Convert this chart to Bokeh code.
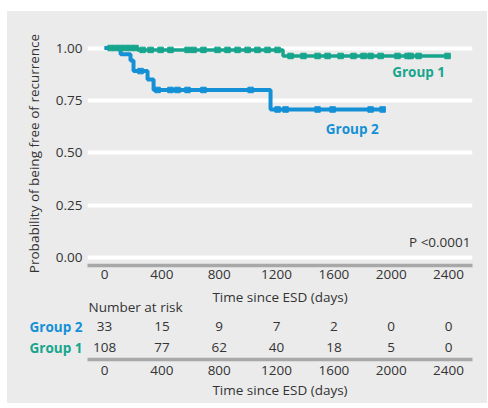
import numpy as np
from bokeh.plotting import figure
from bokeh.layouts import column, row
from bokeh.models import Label, FixedTicker, NumeralTickFormatter, Range1d, Spacer
from bokeh.core.properties import value
from bokeh.embed import file_html
from bokeh.resources import INLINE

# ---------------- data ----------------
ticks_days = [0, 400, 800, 1200, 1600, 2000, 2400]
y_ticks = [0.0, 0.25, 0.50, 0.75, 1.00]

# Kaplan-Meier step curves (time in days, survival)
g1_time = [0, 230, 1245, 2393]
g1_surv = [1.00, 0.991, 0.962, 0.962]
g2_time = [0, 112, 181, 202, 300, 342, 1158, 1940]
g2_surv = [1.00, 0.97, 0.94, 0.89, 0.85, 0.80, 0.707, 0.707]

# censoring times
g1_cens = [42, 77, 112, 147, 181, 216, 265, 321, 391, 460, 579, 621, 690, 788, 858,
           928, 998, 1067, 1137, 1207, 1298, 1388, 1486, 1556, 1647, 1737, 1807,
           1856, 1926, 2044, 2114, 2135, 2191, 2393]
g2_cens = [251, 370, 460, 509, 579, 690, 1019, 1207, 1263, 1486, 1591, 1856, 1940]

# number at risk
risk_g2 = [33, 15, 9, 7, 2, 0, 0]
risk_g1 = [108, 77, 62, 40, 18, 5, 0]

group_names = ["Group 1", "Group 2"]
p_text = "P <0.0001"
x_title = "Time since ESD (days)"
y_title = "Probability of being free of recurrence"
risk_title = "Number at risk"

# ---------------- style ----------------
BG = "#ebebeb"
TEAL = "#17a58d"
BLUE = "#1490d6"
AXIS_GREY = "#a8a8a8"
TXT = "#333333"
FONT = "Open Sans"
FS = "13.5px"

X0, X1 = -119, 2567          # visible day range of plot area
FIG_W = 480
BORDER_L, BORDER_R = 80, 15


def surv_at(times, surv, t):
    idx = np.searchsorted(np.array(times), t, side="right") - 1
    return [surv[i] for i in idx]


def base_fig(height, y_range, top, bottom):
    f = figure(width=FIG_W, height=height, x_range=x_range, y_range=y_range,
               output_backend="svg", toolbar_location=None,
               min_border_left=BORDER_L, min_border_right=BORDER_R,
               min_border_top=top, min_border_bottom=bottom,
               background_fill_color=BG, border_fill_color=BG,
               outline_line_color=None, styles={"background-color": BG})
    return f


def style_xaxis(ax, label, tick_standoff, label_standoff):
    ax.ticker = FixedTicker(ticks=ticks_days)
    ax.major_tick_line_color = None
    ax.minor_tick_line_color = None
    ax.major_tick_out = 0
    ax.major_label_text_font = FONT
    ax.major_label_text_font_size = FS
    ax.major_label_text_color = TXT
    ax.major_label_standoff = tick_standoff
    ax.axis_line_color = AXIS_GREY
    ax.axis_line_width = 3.5
    ax.axis_label = label
    ax.axis_label_text_font = FONT
    ax.axis_label_text_font_size = FS
    ax.axis_label_text_font_style = "normal"
    ax.axis_label_text_color = TXT
    ax.axis_label_standoff = label_standoff


def style_yaxis(ax):
    ax.axis_line_color = None
    ax.major_tick_line_color = None
    ax.minor_tick_line_color = None
    ax.major_tick_out = 0
    ax.major_label_text_font = FONT
    ax.major_label_text_font_size = FS
    ax.major_label_standoff = 5


x_range = Range1d(X0, X1)

# ---------------- main KM plot ----------------
p1 = base_fig(276, (-0.0367, 1.031), 30, 22)
p1.xgrid.visible = False
p1.ygrid.ticker = FixedTicker(ticks=y_ticks)
p1.ygrid.grid_line_color = "white"
p1.ygrid.grid_line_width = 4

style_xaxis(p1.xaxis[0], None, 4, 0)

yax = p1.yaxis[0]
style_yaxis(yax)
yax.ticker = FixedTicker(ticks=y_ticks)
yax.formatter = NumeralTickFormatter(format="0.00")
yax.major_label_text_color = TXT
yax.axis_label = y_title
yax.axis_label_text_font = FONT
yax.axis_label_text_font_size = FS
yax.axis_label_text_font_style = "normal"
yax.axis_label_text_color = TXT
yax.axis_label_standoff = 10

p1.step(g1_time, g1_surv, mode="after", line_color=TEAL, line_width=3.5)
p1.step(g2_time, g2_surv, mode="after", line_color=BLUE, line_width=4)
p1.scatter(g1_cens, surv_at(g1_time, g1_surv, g1_cens), marker="square",
           size=5.5, color=TEAL)
p1.scatter(g2_cens, surv_at(g2_time, g2_surv, g2_cens), marker="square",
           size=5.5, color=BLUE)

p1.text(x=[2191, 1728], y=[0.886, 0.612], text=group_names,
        text_color=[TEAL, BLUE], text_font=value(FONT), text_font_size=FS,
        text_font_style="bold", text_align="center", text_baseline="middle")

p1.add_layout(Label(x=2553, y=0.076, text=p_text, text_align="right",
                    text_baseline="middle", text_font=FONT, text_font_size=FS,
                    text_color=TXT))

# ---------------- risk table: Group 2 row (+ titles) ----------------
# y unit = one table row (21 px); Group 2 row at y=2, Group 1 row at y=1
p2a = base_fig(49, (1.524, 3.857), 0, 0)
p2a.grid.visible = False
p2a.xaxis.visible = False
style_yaxis(p2a.yaxis[0])
p2a.yaxis.ticker = FixedTicker(ticks=[2])
p2a.yaxis.major_label_overrides = {2: group_names[1]}
p2a.yaxis.major_label_text_color = BLUE
p2a.yaxis.major_label_text_font_style = "bold"

p2a.text(x=ticks_days, y=[2] * len(risk_g2), text=[str(v) for v in risk_g2],
         text_color=TXT, text_font=value(FONT), text_font_size=FS,
         text_align="center", text_baseline="middle")
p2a.text(x=[(X0 + X1) / 2], y=[3.381], text=[x_title], text_color=TXT,
         text_font=value(FONT), text_font_size=FS, text_align="center",
         text_baseline="middle")
p2a.text(x=[-112], y=[2.952], text=[risk_title], text_color=TXT,
         text_font=value(FONT), text_font_size=FS, text_align="left",
         text_baseline="middle")

# ---------------- risk table: Group 1 row ----------------
p2b = base_fig(21, (0.524, 1.524), 0, 0)
p2b.grid.visible = False
p2b.xaxis.visible = False
style_yaxis(p2b.yaxis[0])
p2b.yaxis.ticker = FixedTicker(ticks=[1])
p2b.yaxis.major_label_overrides = {1: group_names[0]}
p2b.yaxis.major_label_text_color = TEAL
p2b.yaxis.major_label_text_font_style = "bold"

p2b.text(x=ticks_days, y=[1] * len(risk_g1), text=[str(v) for v in risk_g1],
         text_color=TXT, text_font=value(FONT), text_font_size=FS,
         text_align="center", text_baseline="middle")

# ---------------- bottom axis ----------------
p3 = base_fig(46, (0, 1), 0, 44)
p3.grid.visible = False
p3.yaxis.visible = False
style_xaxis(p3.xaxis[0], x_title, 6, 3)

panel = column(p1, p2a, p2b, p3, spacing=0, styles={"background-color": BG})
layout = column(Spacer(height=11),
                row(Spacer(width=7), panel, spacing=0),
                spacing=0)
open("out.html", "w").write(file_html(layout, INLINE))
